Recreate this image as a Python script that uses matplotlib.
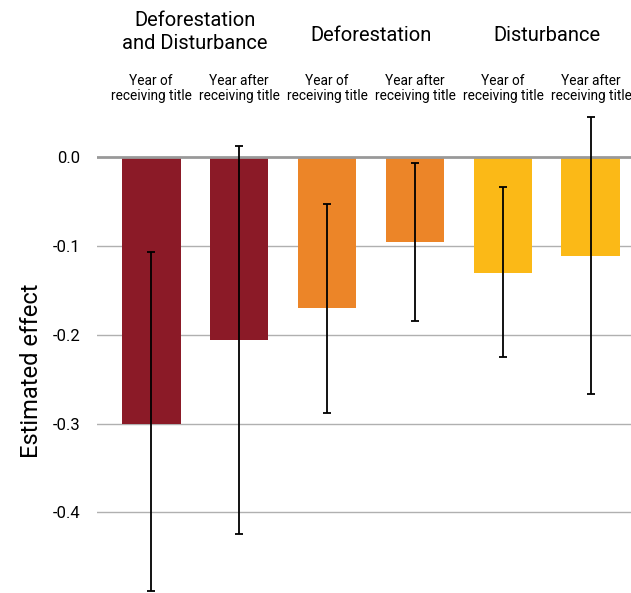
import matplotlib.pyplot as plt

groups = ["Deforestation\nand Disturbance", "Deforestation", "Disturbance"]
sublabels = ["Year of\nreceiving title", "Year after\nreceiving title"] * 3
effects = [-0.300, -0.206, -0.170, -0.095, -0.130, -0.111]
ci_low = [-0.489, -0.424, -0.288, -0.184, -0.225, -0.267]
ci_high = [-0.107, 0.013, -0.052, -0.006, -0.033, 0.045]
colors = ["#8B1A27", "#8B1A27", "#EC8528", "#EC8528", "#FBB917", "#FBB917"]

plt.rcParams['font.family'] = ['Roboto', 'DejaVu Sans']

fig = plt.figure(figsize=(6.31, 5.93), dpi=100)
ax = fig.add_axes([97 / 631, 0, 1 - 97 / 631, 480 / 593])

x = list(range(len(effects)))
yerr = [[e - lo for e, lo in zip(effects, ci_low)], [hi - e for e, hi in zip(effects, ci_high)]]
ax.bar(x, effects, width=0.67, color=colors, zorder=2)
ax.errorbar(x, effects, yerr=yerr, fmt='none', ecolor='black', elinewidth=1.3,
            capsize=3, capthick=1.3, zorder=3)

ax.set_xlim(-0.614, 5.455)
ax.set_ylim(-0.4907, 0.050)
ax.set_yticks([0.0, -0.1, -0.2, -0.3, -0.4])
ax.set_yticklabels(["0.0", "-0.1", "-0.2", "-0.3", "-0.4"], fontsize=12)
ax.tick_params(axis='y', length=0, pad=12)
ax.set_xticks([])
for s in ax.spines.values():
    s.set_visible(False)
for v in [-0.1, -0.2, -0.3, -0.4]:
    ax.axhline(v, color='#b0b0b0', lw=1, zorder=1)
ax.axhline(0, color='#999999', lw=2, zorder=2.5)

ax.set_ylabel("Estimated effect", fontsize=17)
ax.yaxis.set_label_coords(-0.102, 0.462)

# group headers
header_y = [0.141, 0.137, 0.137]
for i, g in enumerate(groups):
    ax.text(2 * i + 0.5, header_y[i], g, ha='center', va='center', fontsize=14.5,
            linespacing=1.3, clip_on=False)
for i, lab in enumerate(sublabels):
    ax.text(i, 0.078, lab, ha='center', va='center', fontsize=9.8, linespacing=1.1,
            clip_on=False)

fig.savefig("out.png", dpi=100)
